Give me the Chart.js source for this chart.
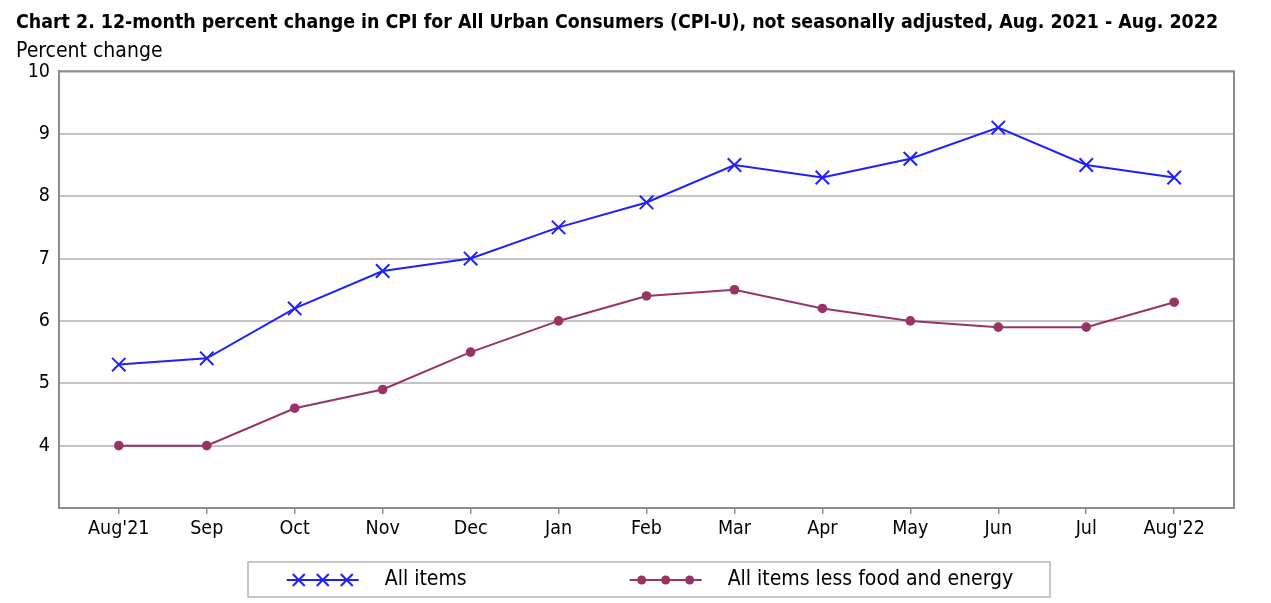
<!DOCTYPE html>
<html lang="en">
<head>
  <meta charset="UTF-8">
  <title>CPI-U 12-month percent change</title>
  <script src="https://cdn.jsdelivr.net/npm/chart.js"></script>
  <style>
    html, body { margin: 0; padding: 0; background: #fff; }
    #wrap { width: 1271px; height: 603px; position: relative; }
  </style>
</head>
<body>
  <div id="wrap"><canvas id="cpiChart"></canvas></div>
  <script>
    // data
    const months = ["Aug'21", 'Sep', 'Oct', 'Nov', 'Dec', 'Jan', 'Feb', 'Mar', 'Apr', 'May', 'Jun', 'Jul', "Aug'22"];
    const allItems = [5.3, 5.4, 6.2, 6.8, 7.0, 7.5, 7.9, 8.5, 8.3, 8.6, 9.1, 8.5, 8.3];
    const coreItems = [4.0, 4.0, 4.6, 4.9, 5.5, 6.0, 6.4, 6.5, 6.2, 6.0, 5.9, 5.9, 6.3];
    const yTicks = [3, 4, 5, 6, 7, 8, 9, 10];

    const BLUE = '#2020ff';
    const PLUM = '#993366';
    const FONT = '"DejaVu Sans Condensed", "DejaVu Sans", sans-serif';

    const pts = arr => arr.map((v, i) => ({ x: i, y: v }));

    // small line with three markers, used in the legend
    function drawSample(ctx, x, y, color, kind) {
      ctx.strokeStyle = color; ctx.fillStyle = color; ctx.lineWidth = 2;
      ctx.beginPath(); ctx.moveTo(x, y); ctx.lineTo(x + 72, y); ctx.stroke();
      [12, 36, 60].forEach(dx => {
        const cx = x + dx;
        if (kind === 'cross') {
          ctx.beginPath();
          ctx.moveTo(cx - 6, y - 6); ctx.lineTo(cx + 6, y + 6);
          ctx.moveTo(cx + 6, y - 6); ctx.lineTo(cx - 6, y + 6);
          ctx.stroke();
        } else {
          ctx.beginPath(); ctx.arc(cx, y, 4.5, 0, Math.PI * 2); ctx.fill();
        }
      });
    }

    // frame round the plot + boxed legend under it
    const frame = {
      id: 'frame',
      afterDraw(chart) {
        const { ctx, chartArea: a } = chart;
        ctx.save();
        ctx.strokeStyle = '#8c8c8c';
        ctx.lineWidth = 2;
        ctx.strokeRect(a.left, a.top, a.right - a.left, a.bottom - a.top);

        // legend
        const ds = chart.data.datasets;
        ctx.font = '21px ' + FONT;
        ctx.textBaseline = 'middle';
        const gapText = 26, gapItem = 163;
        const w = ds.map(d => ctx.measureText(d.label).width);
        const total = 2 * (72 + gapText) + w[0] + w[1] + gapItem;
        const cy = 580;
        let x = 650 - total / 2;
        ctx.strokeStyle = '#b4b4b4';
        ctx.lineWidth = 1.5;
        ctx.strokeRect(248, 562, 802, 35);
        ds.forEach((d, i) => {
          drawSample(ctx, x, cy, d.borderColor, i === 0 ? 'cross' : 'dot');
          ctx.fillStyle = '#000';
          ctx.fillText(d.label, x + 72 + gapText, cy);
          x += 72 + gapText + w[i] + gapItem;
        });
        ctx.restore();
      }
    };

    new Chart(document.getElementById('cpiChart'), {
      type: 'line',
      data: {
        datasets: [
          {
            label: 'All items',
            data: pts(allItems),
            borderColor: BLUE,
            backgroundColor: BLUE,
            borderWidth: 2,
            pointStyle: 'crossRot',
            pointRadius: 9.5,
            pointBorderWidth: 2
          },
          {
            label: 'All items less food and energy',
            data: pts(coreItems),
            borderColor: PLUM,
            backgroundColor: PLUM,
            borderWidth: 2,
            pointStyle: 'circle',
            pointRadius: 4.8,
            pointBorderWidth: 0
          }
        ]
      },
      options: {
        responsive: true,
        maintainAspectRatio: false,
        animation: false,
        layout: { padding: { left: 16, right: 37, top: 0, bottom: 55 } },
        plugins: {
          title: {
            display: true,
            text: 'Chart 2. 12-month percent change in CPI for All Urban Consumers (CPI-U), not seasonally adjusted, Aug. 2021 - Aug. 2022',
            align: 'start',
            color: '#000',
            font: { family: FONT, size: 19.4, weight: 'bold' },
            padding: { top: 11, bottom: 2 }
          },
          subtitle: {
            display: true,
            text: 'Percent change',
            align: 'start',
            color: '#000',
            font: { family: FONT, size: 21 },
            padding: { top: 3, bottom: 7 }
          },
          legend: { display: false },
          tooltip: { enabled: false }
        },
        scales: {
          x: {
            type: 'linear',
            min: -0.68,
            max: 12.68,
            afterBuildTicks(scale) {
              scale.ticks = months.map((m, i) => ({ value: i }));
            },
            afterFit(scale) { scale.height = 40; },
            ticks: {
              autoSkip: false,
              maxRotation: 0,
              color: '#000',
              font: { family: FONT, size: 19.5 },
              padding: 3,
              callback: (v) => months[v]
            },
            grid: { drawOnChartArea: false, color: '#8c8c8c', tickLength: 6, lineWidth: 1.5 },
            border: { color: '#8c8c8c', width: 2 }
          },
          y: {
            min: 3,
            max: 10,
            afterBuildTicks(scale) {
              scale.ticks = yTicks.map(v => ({ value: v }));
            },
            afterFit(scale) { scale.width = 43; },
            ticks: {
              color: '#000',
              font: { family: FONT, size: 19.5 },
              padding: 9,
              callback: (v) => (v === 3 ? '' : v)
            },
            grid: { color: '#c4c4c4', lineWidth: 2, drawTicks: false },
            border: { color: '#8c8c8c', width: 2 }
          }
        }
      },
      plugins: [frame]
    });
  </script>
</body>
</html>
